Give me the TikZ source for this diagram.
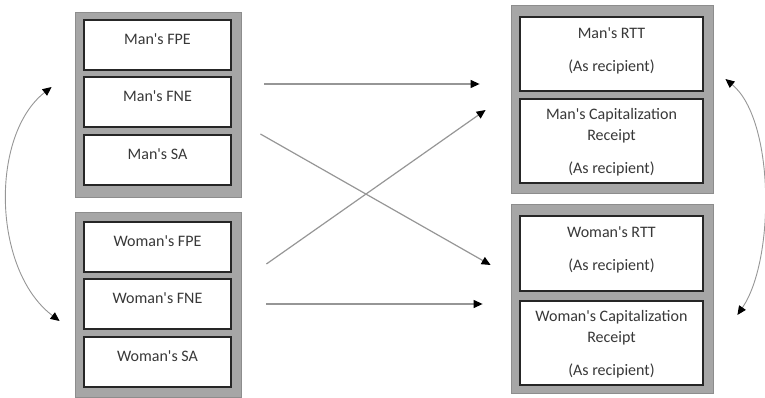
\documentclass[tikz,border=0pt]{standalone}
\usepackage{fontspec}
\newfontfamily\itemfont{Carlito}
\usetikzlibrary{positioning}
\usetikzlibrary{calc}
\usetikzlibrary{arrows.meta}

\definecolor{groupgray}{RGB}{166,166,166}
\definecolor{edgegray}{RGB}{150,150,150}
\definecolor{boxline}{RGB}{38,38,38}
\definecolor{textgray}{RGB}{56,56,56}

\begin{document}
\begin{tikzpicture}[x=1pt, y=-1pt,
                groupnode/.style={rectangle, draw=groupgray!85!black, fill=groupgray, line width=0.8pt},
                itemnode/.style={rectangle, draw=boxline, fill=white, line width=1.6pt},
                itemtext/.style={font=\itemfont\fontsize{16pt}{21pt}\selectfont, text=textgray, align=center, inner sep=0pt},
                link/.style={draw=edgegray, line width=1.2pt, -{Triangle[black, length=9pt, width=8pt]}},
                bothway/.style={draw=edgegray, line width=0.9pt, {Triangle[black, length=9pt, width=8pt]}-{Triangle[black, length=9pt, width=8pt]}},
                ]
                \useasboundingbox (0,0) rectangle (765,398);

                % left side: man and woman
                \node[groupnode, minimum width=166pt, minimum height=185pt] (manSrc) at (158,104.5) {};
                \node[itemnode, minimum width=147pt, minimum height=50pt] (fpeMan) at (157.5,45) {};
                \node[itemnode, minimum width=147pt, minimum height=50pt] (fneMan) at (157.5,102) {};
                \node[itemnode, minimum width=147pt, minimum height=50pt] (saMan) at (157.5,160) {};
                \node[itemtext, below=14pt of fpeMan.north] (fpeManTxt) {Man's FPE};
                \node[itemtext, below=14pt of fneMan.north] (fneManTxt) {Man's FNE};
                \node[itemtext, below=14pt of saMan.north] (saManTxt) {Man's SA};

                \node[groupnode, minimum width=166pt, minimum height=185pt] (womSrc) at (158,304.5) {};
                \node[itemnode, minimum width=147pt, minimum height=50pt] (fpeWom) at (157.5,247) {};
                \node[itemnode, minimum width=147pt, minimum height=50pt] (fneWom) at (157.5,304) {};
                \node[itemnode, minimum width=147pt, minimum height=50pt] (saWom) at (157.5,362) {};
                \node[itemtext, below=14pt of fpeWom.north] (fpeWomTxt) {Woman's FPE};
                \node[itemtext, below=14pt of fneWom.north] (fneWomTxt) {Woman's FNE};
                \node[itemtext, below=14pt of saWom.north] (saWomTxt) {Woman's SA};

                % right side: as recipient
                \node[groupnode, minimum width=202pt, minimum height=188pt] (manRcp) at (612,99) {};
                \node[itemnode, minimum width=183pt, minimum height=74pt] (rttMan) at (611.5,54) {};
                \node[itemnode, minimum width=183pt, minimum height=84pt] (capMan) at (611.5,141) {};
                \node[itemtext, below=11pt of rttMan.north] (rttManTxt) {Man's RTT\\[12pt](As recipient)};
                \node[itemtext, below=10pt of capMan.north] (capManTxt) {Man's Capitalization\\Receipt\\[12pt](As recipient)};

                \node[groupnode, minimum width=202pt, minimum height=189pt] (womRcp) at (612,298.5) {};
                \node[itemnode, minimum width=183pt, minimum height=75pt] (rttWom) at (611.5,253.5) {};
                \node[itemnode, minimum width=183pt, minimum height=84pt] (capWom) at (611.5,343) {};
                \node[itemtext, below=11pt of rttWom.north] (rttWomTxt) {Woman's RTT\\[12pt](As recipient)};
                \node[itemtext, below=10pt of capWom.north] (capWomTxt) {Woman's Capitalization\\Receipt\\[12pt](As recipient)};

                \draw[link] ($(manSrc.east)+(23,-20.5)$) -- ($(manRcp.west)+(-31,-15)$);
                \draw[link] ($(manSrc.east)+(19,29.5)$) -- ($(womRcp.west)+(-20,-33.5)$);
                \draw[link] ($(womSrc.east)+(25,-40.5)$) -- ($(manRcp.west)+(-25,11)$);
                \draw[link] ($(womSrc.east)+(25,-0.5)$) -- ($(womRcp.west)+(-28,5.5)$);

                \draw[bothway] ($(manSrc.west)+(-23,-17.5)$) .. controls (-10,135) and (-8,270) .. ($(womSrc.west)+(-15,16.5)$);
                \draw[bothway] ($(manRcp.east)+(12,-20)$) .. controls (775,120) and (775,260) .. ($(womRcp.east)+(24,16.5)$);
            \end{tikzpicture}
\end{document}
